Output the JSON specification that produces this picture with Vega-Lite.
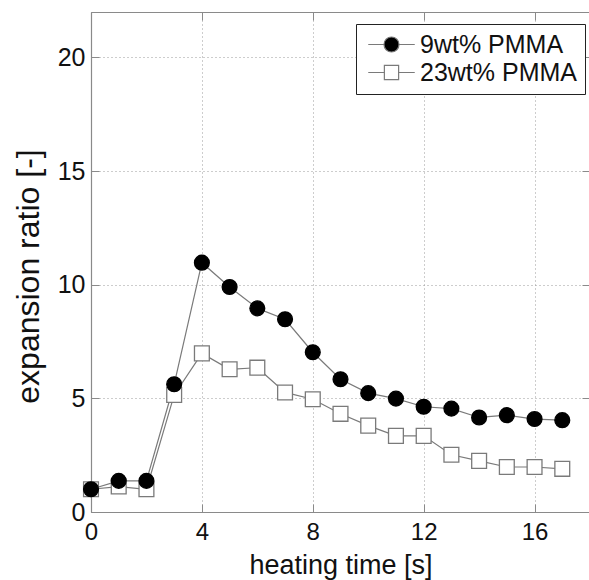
{
  "$schema": "https://vega.github.io/schema/vega-lite/v6.json",
  "width": 499,
  "height": 500,
  "autosize": {"type": "none"},
  "padding": {"left": 91, "top": 12, "right": 0, "bottom": 68},
  "background": "white",
  "config": {
    "font": "Liberation Sans",
    "view": {"stroke": null},
    "axis": {
      "domainColor": "#8a8a8a",
      "domainWidth": 1.2,
      "tickColor": "#8a8a8a",
      "tickWidth": 1,
      "tickSize": -8,
      "labelFlush": false,
      "labelColor": "#111",
      "titleColor": "#111",
      "labelFont": "Liberation Sans",
      "titleFont": "Liberation Sans",
      "titleFontWeight": "normal",
      "gridColor": "#9a9a9a",
      "gridDash": [1, 3],
      "gridWidth": 1
    },
    "legend": {
      "title": null,
      "orient": "none",
      "legendX": 265,
      "legendY": 12,
      "padding": 8,
      "strokeColor": "#222",
      "fillColor": "white",
      "labelFontSize": 25,
      "labelFont": "Liberation Sans",
      "labelColor": "#111",
      "labelOffset": 16,
      "symbolOffset": 15,
      "symbolSize": 225,
      "symbolOpacity": 1,
      "symbolStrokeWidth": 1.2,
      "rowPadding": 2,
      "labelLimit": 400
    }
  },
  "data": {
    "values": [
      {"t": 0, "ratio": 1.0, "series": "23wt% PMMA"},
      {"t": 1, "ratio": 1.12, "series": "23wt% PMMA"},
      {"t": 2, "ratio": 1.0, "series": "23wt% PMMA"},
      {"t": 3, "ratio": 5.15, "series": "23wt% PMMA"},
      {"t": 4, "ratio": 6.98, "series": "23wt% PMMA"},
      {"t": 5, "ratio": 6.28, "series": "23wt% PMMA"},
      {"t": 6, "ratio": 6.35, "series": "23wt% PMMA"},
      {"t": 7, "ratio": 5.26, "series": "23wt% PMMA"},
      {"t": 8, "ratio": 4.96, "series": "23wt% PMMA"},
      {"t": 9, "ratio": 4.32, "series": "23wt% PMMA"},
      {"t": 10, "ratio": 3.8, "series": "23wt% PMMA"},
      {"t": 11, "ratio": 3.35, "series": "23wt% PMMA"},
      {"t": 12, "ratio": 3.35, "series": "23wt% PMMA"},
      {"t": 13, "ratio": 2.52, "series": "23wt% PMMA"},
      {"t": 14, "ratio": 2.25, "series": "23wt% PMMA"},
      {"t": 15, "ratio": 1.98, "series": "23wt% PMMA"},
      {"t": 16, "ratio": 1.98, "series": "23wt% PMMA"},
      {"t": 17, "ratio": 1.9, "series": "23wt% PMMA"},
      {"t": 0, "ratio": 1.0, "series": "9wt% PMMA"},
      {"t": 1, "ratio": 1.37, "series": "9wt% PMMA"},
      {"t": 2, "ratio": 1.37, "series": "9wt% PMMA"},
      {"t": 3, "ratio": 5.62, "series": "9wt% PMMA"},
      {"t": 4, "ratio": 10.97, "series": "9wt% PMMA"},
      {"t": 5, "ratio": 9.9, "series": "9wt% PMMA"},
      {"t": 6, "ratio": 8.96, "series": "9wt% PMMA"},
      {"t": 7, "ratio": 8.48, "series": "9wt% PMMA"},
      {"t": 8, "ratio": 7.03, "series": "9wt% PMMA"},
      {"t": 9, "ratio": 5.84, "series": "9wt% PMMA"},
      {"t": 10, "ratio": 5.23, "series": "9wt% PMMA"},
      {"t": 11, "ratio": 4.99, "series": "9wt% PMMA"},
      {"t": 12, "ratio": 4.63, "series": "9wt% PMMA"},
      {"t": 13, "ratio": 4.55, "series": "9wt% PMMA"},
      {"t": 14, "ratio": 4.16, "series": "9wt% PMMA"},
      {"t": 15, "ratio": 4.26, "series": "9wt% PMMA"},
      {"t": 16, "ratio": 4.09, "series": "9wt% PMMA"},
      {"t": 17, "ratio": 4.04, "series": "9wt% PMMA"}
    ]
  },
  "resolve": {
    "axis": {"x": "independent", "y": "independent"},
    "scale": {"shape": "independent", "fill": "independent", "stroke": "independent"}
  },
  "layer": [
    {
      "mark": {"type": "line", "color": "#7a7a7a", "strokeWidth": 1.2},
      "encoding": {
        "x": {
          "field": "t", "type": "quantitative",
          "scale": {"domain": [0, 18], "nice": false, "zero": false},
          "axis": {
            "title": "heating time [s]",
            "values": [0, 4, 8, 12, 16],
            "grid": true,
            "labelFontSize": 24,
            "labelPadding": 16,
            "titleFontSize": 27,
            "titlePadding": 8
          }
        },
        "y": {
          "field": "ratio", "type": "quantitative",
          "scale": {"domain": [0, 22], "nice": false},
          "axis": {
            "title": "expansion ratio [-]",
            "values": [0, 5, 10, 15, 20],
            "grid": true,
            "labelFontSize": 25,
            "labelPadding": 14,
            "titleFontSize": 32,
            "titlePadding": 12,
            "titleY": 264
          }
        },
        "detail": {"field": "series"}
      }
    },
    {
      "mark": {"type": "point", "size": 220, "opacity": 1, "strokeWidth": 1.3, "filled": false},
      "encoding": {
        "x": {
          "field": "t", "type": "quantitative",
          "axis": {"orient": "top", "labels": false, "title": null, "grid": false, "values": [0, 4, 8, 12, 16]}
        },
        "y": {
          "field": "ratio", "type": "quantitative",
          "axis": {"orient": "right", "labels": false, "title": null, "grid": false, "values": [0, 5, 10, 15, 20]}
        },
        "shape": {
          "field": "series", "type": "nominal",
          "scale": {"domain": ["9wt% PMMA", "23wt% PMMA"], "range": ["circle", "square"]},
          "legend": null
        },
        "fill": {
          "condition": {"test": "datum.series === '9wt% PMMA'", "value": "black"},
          "value": "white"
        },
        "stroke": {
          "condition": {"test": "datum.series === '9wt% PMMA'", "value": "black"},
          "value": "#7a7a7a"
        }
      }
    },
    {
      "mark": {"type": "point", "size": 225, "opacity": 0, "filled": true, "strokeWidth": 1.2},
      "encoding": {
        "x": {"field": "t", "type": "quantitative", "axis": null},
        "y": {"field": "ratio", "type": "quantitative", "axis": null},
        "shape": {
          "field": "series", "type": "nominal",
          "scale": {
            "domain": ["9wt% PMMA", "23wt% PMMA"],
            "range": [
              "M-3.1,0L-1,0M1,0L3.1,0M-1,0A1,1,0,1,1,1,0A1,1,0,1,1,-1,0Z",
              "M-3.1,0L-0.95,0M0.95,0L3.1,0M-0.95,-0.95L0.95,-0.95L0.95,0.95L-0.95,0.95Z"
            ]
          },
          "legend": {"encode": {"legend": {"strokeWidth": {"value": 1.6}}}}
        },
        "fill": {
          "field": "series", "type": "nominal",
          "scale": {"domain": ["9wt% PMMA", "23wt% PMMA"], "range": ["black", "white"]}
        },
        "stroke": {
          "field": "series", "type": "nominal",
          "scale": {"domain": ["9wt% PMMA", "23wt% PMMA"], "range": ["#7a7a7a", "#7a7a7a"]}
        }
      }
    }
  ]
}
